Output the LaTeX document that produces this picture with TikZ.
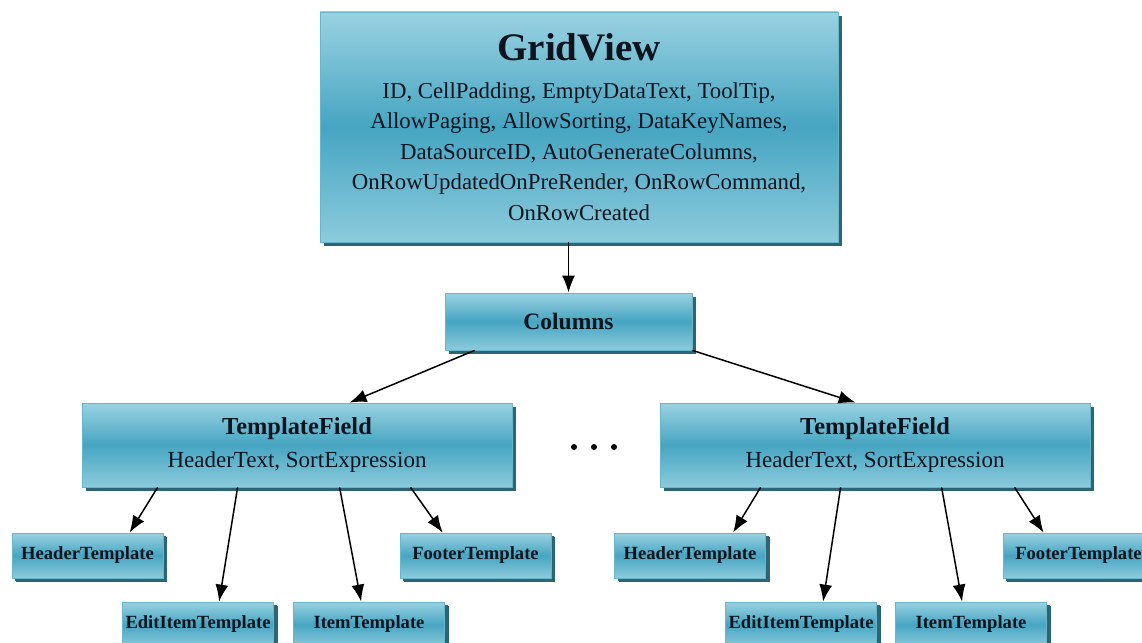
\documentclass[tikz,border=0pt]{standalone}
\usepackage{fontspec}
\setmainfont{Liberation Serif}
\usetikzlibrary{shadows,arrows.meta}
\definecolor{boxtop}{HTML}{9AD2E1}
\definecolor{boxmid}{HTML}{46A5C2}
\definecolor{boxbot}{HTML}{8CCBDC}
\definecolor{boxline}{HTML}{66B7CC}
\definecolor{shadowc}{HTML}{2C6676}
\definecolor{txt}{HTML}{0C141E}
\begin{document}
\begin{tikzpicture}[x=1pt,y=-1pt,
  box/.style={draw=boxline, line width=0.8pt, top color=boxtop, bottom color=boxbot, middle color=boxmid,
    drop shadow={shadow xshift=4pt, shadow yshift=-4pt, shadow scale=1, fill=shadowc, opacity=1},
    inner sep=0pt, text=txt, align=center},
  small/.style={box, minimum width=151pt, minimum height=45pt, font=\fontsize{18.6}{20}\selectfont\bfseries,
    drop shadow={shadow xshift=3pt, shadow yshift=-3pt, shadow scale=1, fill=shadowc, opacity=1}},
  tf/.style={box, minimum width=430pt, minimum height=84pt, font=\fontsize{23}{33}\selectfont},
  arr/.style={-{Latex[length=17pt,width=13pt]}, line width=1.5pt, draw=black}]
\useasboundingbox (0,0) rectangle (1142,642);
\clip (0,0) rectangle (1142,642);
\fill[white] (0,0) rectangle (1142,642);

\node[box, minimum width=518pt, minimum height=230pt, font=\fontsize{22.8}{30.5}\selectfont] (gv) at (579,127)
  {{\fontsize{39}{39}\selectfont\bfseries GridView}\\[7pt]
   ID, CellPadding, EmptyDataText, ToolTip,\\
   AllowPaging, AllowSorting, DataKeyNames,\\
   DataSourceID, AutoGenerateColumns,\\
   OnRowUpdatedOnPreRender, OnRowCommand,\\
   OnRowCreated};

\node[box, minimum width=247pt, minimum height=57pt, font=\fontsize{23.5}{25}\selectfont\bfseries] (col) at (568.5,321.5) {Columns};

\node[tf] (tfl) at (297,445) {{\fontsize{24.4}{26}\selectfont\bfseries TemplateField}\\HeaderText, SortExpression};
\node[tf] (tfr) at (875,445) {{\fontsize{24.4}{26}\selectfont\bfseries TemplateField}\\HeaderText, SortExpression};

\fill[black] (574,447) circle (3) (594,447) circle (3) (614,447) circle (3);

\node[small] (htl) at (87.5,555.5) {HeaderTemplate};
\node[small] (ftl) at (475.5,555.5) {FooterTemplate};
\node[small] (eil) at (198,624.5) {EditItemTemplate};
\node[small] (itl) at (369,624.5) {ItemTemplate};

\node[small] (htr) at (690,555.5) {HeaderTemplate};
\node[small] (ftr) at (1078.5,555.5) {FooterTemplate};
\node[small] (eir) at (801,624.5) {EditItemTemplate};
\node[small] (itr) at (971,624.5) {ItemTemplate};

\draw[arr] (gv.south -| col.north) -- (col.north);
\draw[arr] ([xshift=30pt]col.south west) -- ([xshift=268pt]tfl.north west);
\draw[arr] (col.south east) -- ([xshift=196pt]tfr.north west);

\draw[arr] ([xshift=76pt]tfl.south west) -- ([xshift=118pt]htl.north west);
\draw[arr] ([xshift=156pt]tfl.south west) -- ([xshift=97pt]eil.north west);
\draw[arr] ([xshift=258pt]tfl.south west) -- ([xshift=68pt]itl.north west);
\draw[arr] ([xshift=329pt]tfl.south west) -- ([xshift=43pt]ftl.north west);

\draw[arr] ([xshift=101pt]tfr.south west) -- ([xshift=119pt]htr.north west);
\draw[arr] ([xshift=181pt]tfr.south west) -- ([xshift=98pt]eir.north west);
\draw[arr] ([xshift=282pt]tfr.south west) -- ([xshift=67pt]itr.north west);
\draw[arr] ([xshift=355pt]tfr.south west) -- ([xshift=41pt]ftr.north west);
\end{tikzpicture}
\end{document}
